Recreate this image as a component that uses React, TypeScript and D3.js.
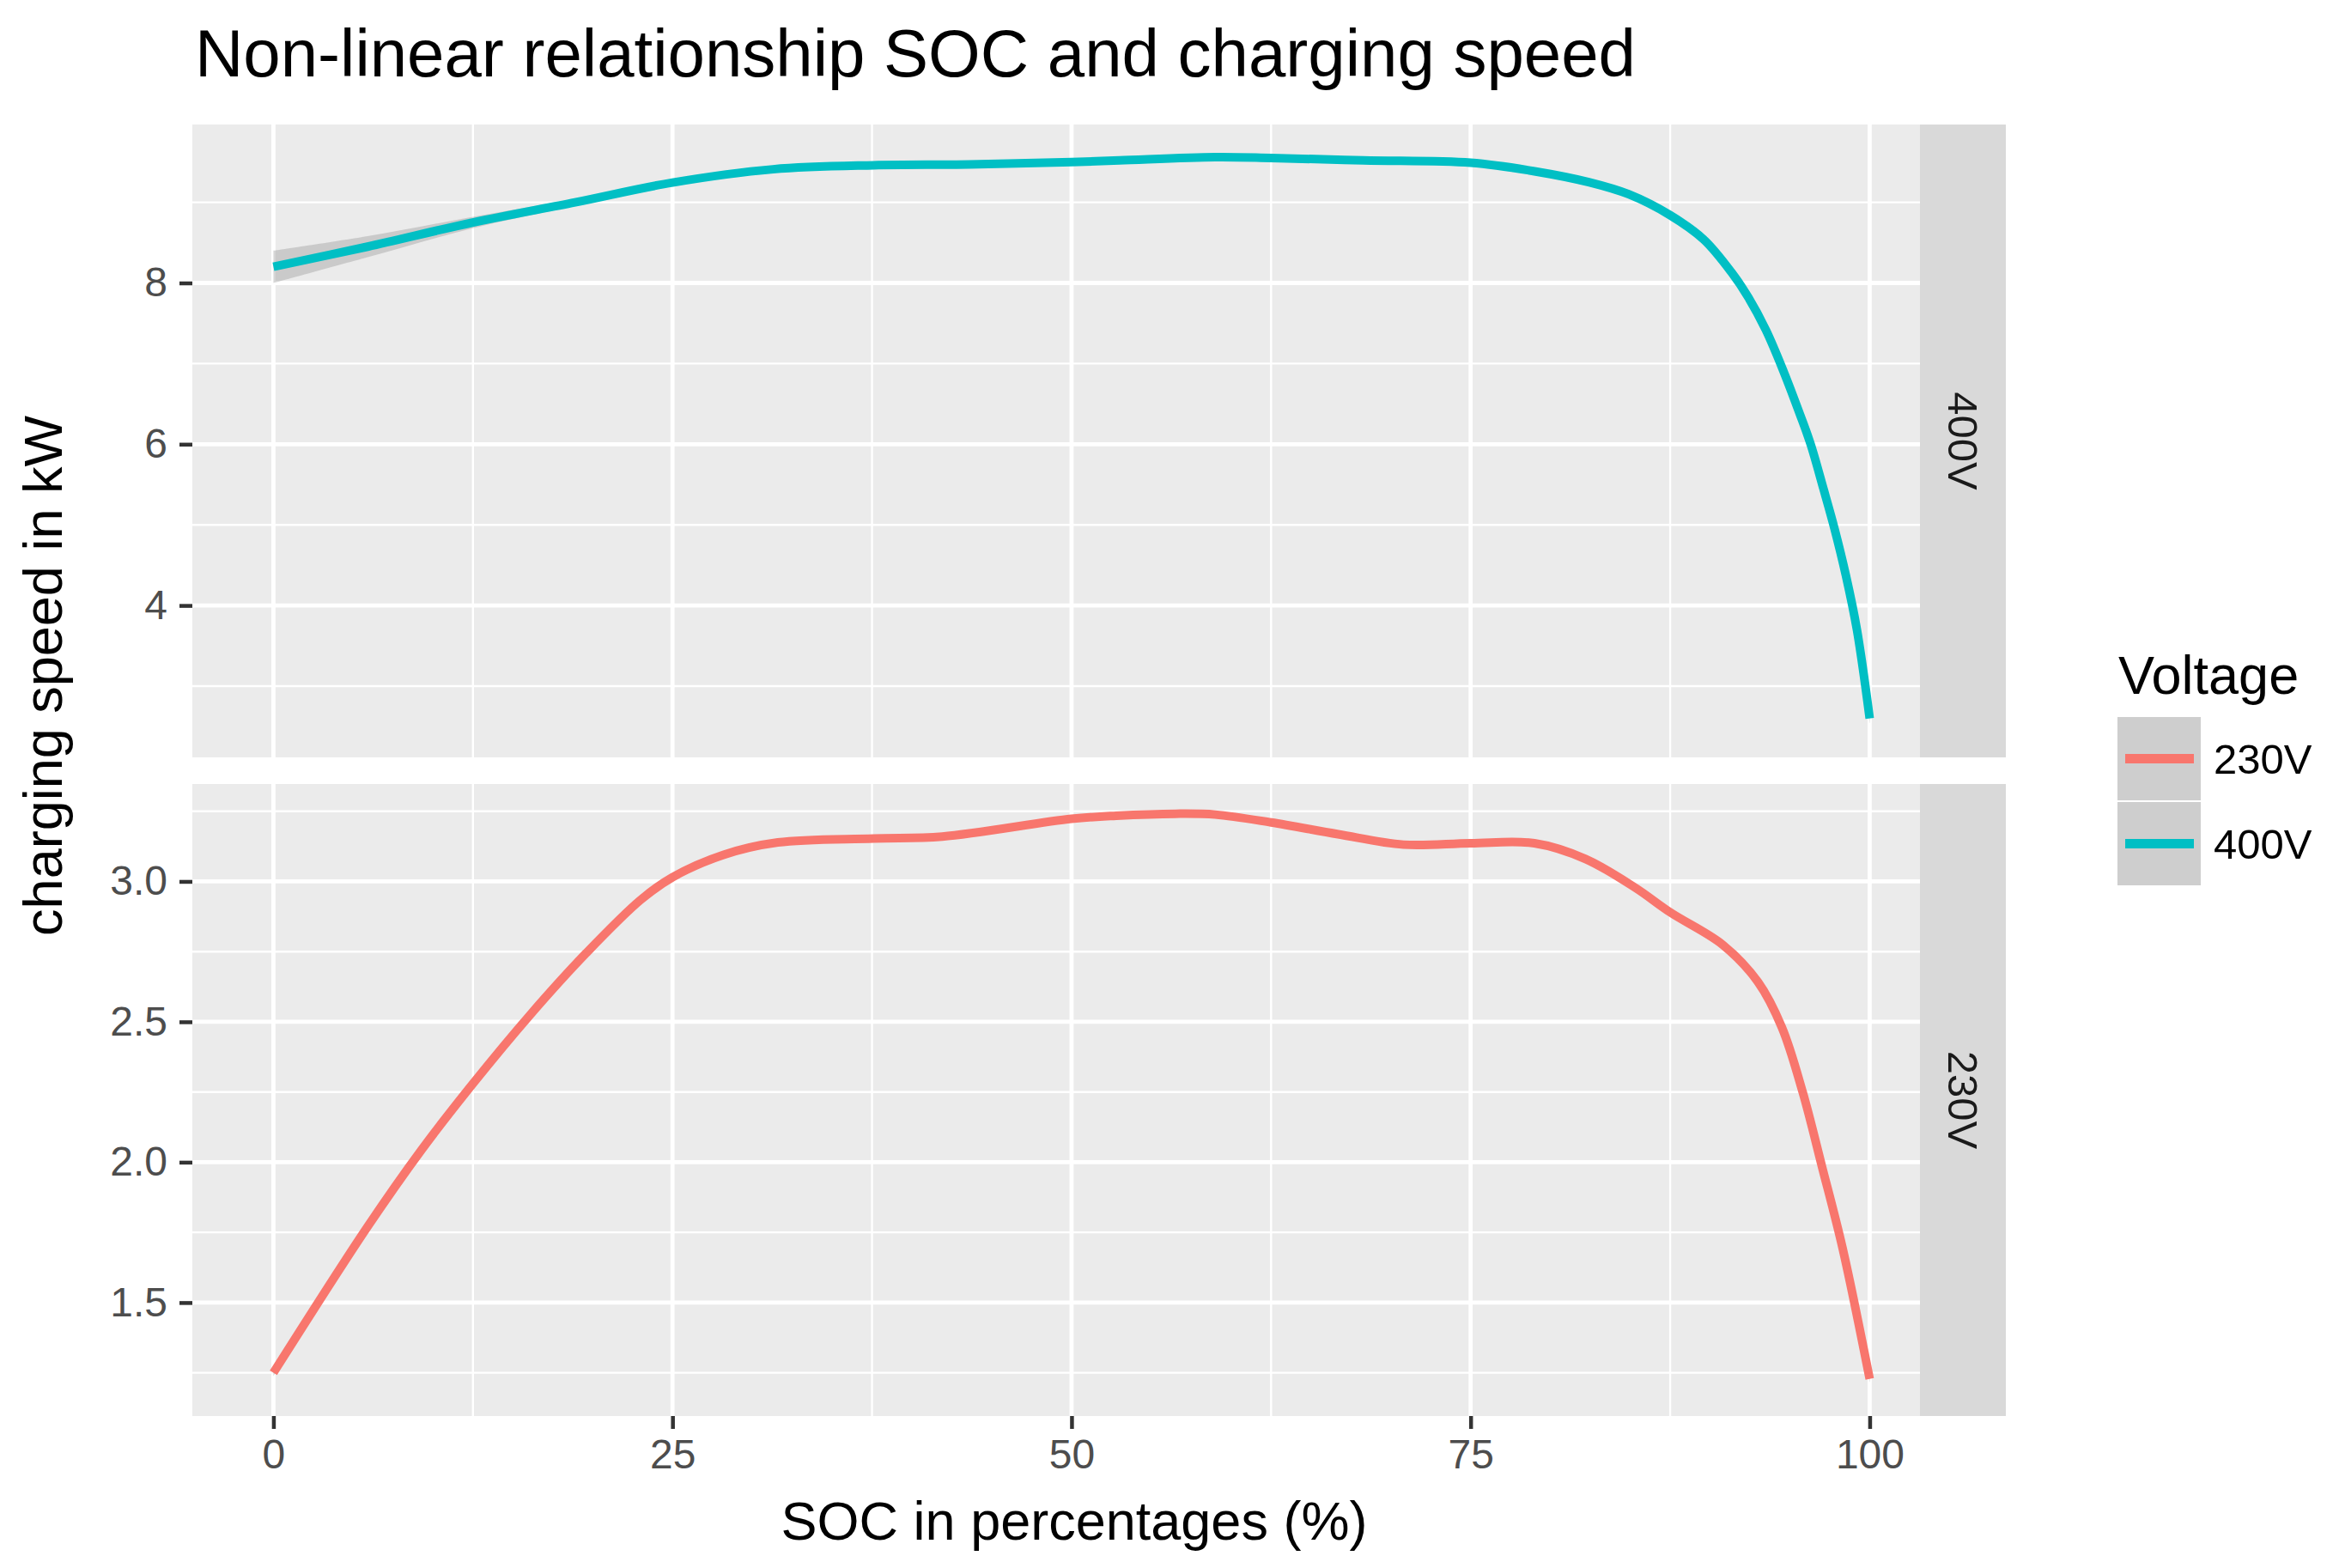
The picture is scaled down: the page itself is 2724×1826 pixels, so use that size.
import { useEffect, useRef } from 'react';
import * as d3 from 'd3';

// SOC tick labels and series colours (ggplot default hues)
const socTicks = [0, 25, 50, 75, 100];
const voltages = ['230V', '400V'];
const voltageColors = ['#F8766D', '#00BFC4'];

// 400V smoothed charging curve
const soc400 = [0, 5.9, 12.5, 18.9, 25, 31.3, 37.6, 43.6, 50, 53, 59, 62.5, 68.3, 75, 79, 82.4, 84.9, 87.5, 89.6, 91.35, 92.4, 93.5, 94.6, 95.65, 96.3, 97.1, 97.8, 98.5, 99.2, 100];
const kw400 = [8.2, 8.45, 8.75, 9.0, 9.245, 9.41, 9.46, 9.47, 9.5, 9.52, 9.56, 9.55, 9.52, 9.49, 9.385, 9.25, 9.1, 8.84, 8.54, 8.13, 7.82, 7.415, 6.905, 6.36, 6.0, 5.45, 4.95, 4.38, 3.7, 2.6];
const se400 = [0.2, 0.13, 0.07, 0.045, 0.035, 0.03, 0.03, 0.03, 0.03, 0.03, 0.03, 0.03, 0.03, 0.03, 0.03, 0.03, 0.03, 0.03, 0.03, 0.035, 0.035, 0.035, 0.04, 0.04, 0.04, 0.045, 0.045, 0.05, 0.055, 0.06];

// 230V smoothed charging curve
const soc230 = [0, 5.87, 9.29, 12.5, 16.1, 19.6, 23, 25, 28.2, 31.6, 37.6, 41.9, 50, 52.8, 56.5, 59, 62.5, 66.7, 70.8, 75, 79, 82.2, 85.3, 87.5, 90.8, 93, 94.5, 95.8, 97, 98.3, 100];
const kw230 = [1.25, 1.768, 2.045, 2.28, 2.526, 2.745, 2.934, 3.015, 3.095, 3.139, 3.153, 3.16, 3.223, 3.234, 3.241, 3.238, 3.21, 3.168, 3.131, 3.136, 3.136, 3.08, 2.978, 2.89, 2.774, 2.642, 2.48, 2.25, 1.987, 1.694, 1.228];
const se230 = kw230.map(() => 0.012);

const ticks400 = [4, 6, 8];
const ticks230 = [1.5, 2.0, 2.5, 3.0];

const midpoints = (t) => {
  const step = t[1] - t[0];
  const out = [t[0] - step / 2];
  t.forEach(v => out.push(v + step / 2));
  return out;
};

const App = () => {
  const chartRef = useRef(null);
  const width = 2724;
  const height = 1826;
  const panelLeft = 224;
  const panelRight = 2236;
  const stripWidth = 100;
  const font = '"Liberation Sans", Arial, Helvetica, sans-serif';

  useEffect(() => {
    const svg = d3.select(chartRef.current);
    svg.selectAll('*').remove();
    svg.attr('font-family', font);

    const x = d3.scaleLinear()
      .domain([-5.08, 103.15])
      .range([panelLeft, panelRight]);

    const facets = [
      { id: 'p400', label: '400V', color: voltageColors[1], soc: soc400, kw: kw400, se: se400,
        ticks: ticks400, fmt: d3.format('d'), top: 145, bottom: 882, domain: [2.116, 9.965] },
      { id: 'p230', label: '230V', color: voltageColors[0], soc: soc230, kw: kw230, se: se230,
        ticks: ticks230, fmt: d3.format('.1f'), top: 913, bottom: 1649, domain: [1.096, 3.347] },
    ];

    const xMinor = midpoints(socTicks).filter(v => v > x.domain()[0] && v < x.domain()[1]);

    facets.forEach(f => {
      const y = d3.scaleLinear().domain(f.domain).range([f.bottom, f.top]);
      const yMinor = midpoints(f.ticks).filter(v => v > f.domain[0] && v < f.domain[1]);
      const g = svg.append('g');

      g.append('rect')
        .attr('x', panelLeft).attr('y', f.top)
        .attr('width', panelRight - panelLeft).attr('height', f.bottom - f.top)
        .attr('fill', '#EBEBEB');

      // minor grid
      g.selectAll('line.hmin').data(yMinor).join('line')
        .attr('x1', panelLeft).attr('x2', panelRight)
        .attr('y1', d => y(d)).attr('y2', d => y(d))
        .attr('stroke', '#FFFFFF').attr('stroke-width', 2.4);
      g.selectAll('line.vmin').data(xMinor).join('line')
        .attr('x1', d => x(d)).attr('x2', d => x(d))
        .attr('y1', f.top).attr('y2', f.bottom)
        .attr('stroke', '#FFFFFF').attr('stroke-width', 2.4);

      // major grid
      g.selectAll('line.hmaj').data(f.ticks).join('line')
        .attr('x1', panelLeft).attr('x2', panelRight)
        .attr('y1', d => y(d)).attr('y2', d => y(d))
        .attr('stroke', '#FFFFFF').attr('stroke-width', 4.8);
      g.selectAll('line.vmaj').data(socTicks).join('line')
        .attr('x1', d => x(d)).attr('x2', d => x(d))
        .attr('y1', f.top).attr('y2', f.bottom)
        .attr('stroke', '#FFFFFF').attr('stroke-width', 4.8);

      svg.append('clipPath').attr('id', `clip-${f.id}`)
        .append('rect')
        .attr('x', panelLeft).attr('y', f.top)
        .attr('width', panelRight - panelLeft).attr('height', f.bottom - f.top);

      const pts = f.soc.map((s, i) => ({ s, v: f.kw[i], e: f.se[i] }));

      const ribbon = d3.area()
        .x(d => x(d.s))
        .y0(d => y(d.v - d.e))
        .y1(d => y(d.v + d.e))
        .curve(d3.curveCatmullRom.alpha(0.5));
      g.append('path')
        .attr('clip-path', `url(#clip-${f.id})`)
        .attr('d', ribbon(pts))
        .attr('fill', '#999999')
        .attr('fill-opacity', 0.4);

      const line = d3.line()
        .x(d => x(d.s))
        .y(d => y(d.v))
        .curve(d3.curveCatmullRom.alpha(0.5));
      g.append('path')
        .attr('clip-path', `url(#clip-${f.id})`)
        .attr('d', line(pts))
        .attr('fill', 'none')
        .attr('stroke', f.color)
        .attr('stroke-width', 10);

      // facet strip
      g.append('rect')
        .attr('x', panelRight).attr('y', f.top)
        .attr('width', stripWidth).attr('height', f.bottom - f.top)
        .attr('fill', '#D9D9D9');
      g.append('text')
        .attr('transform', `translate(${panelRight + stripWidth / 2},${(f.top + f.bottom) / 2}) rotate(90)`)
        .attr('text-anchor', 'middle')
        .attr('dy', '0.35em')
        .attr('font-size', 49)
        .attr('fill', '#1A1A1A')
        .text(f.label);

      // y axis
      svg.append('g')
        .attr('transform', `translate(${panelLeft},0)`)
        .attr('color', '#333333')
        .call(d3.axisLeft(y).tickValues(f.ticks).tickFormat(f.fmt).tickSize(15).tickPadding(14))
        .call(a => a.select('.domain').remove())
        .call(a => a.selectAll('line').attr('stroke-width', 4.5))
        .call(a => a.selectAll('text')
          .attr('fill', '#4D4D4D')
          .attr('font-size', 48)
          .attr('font-family', font));
    });

    // x axis under the lower panel
    svg.append('g')
      .attr('transform', `translate(0,${facets[1].bottom})`)
      .attr('color', '#333333')
      .call(d3.axisBottom(x).tickValues(socTicks).tickFormat(d3.format('d')).tickSize(15).tickPadding(12))
      .call(a => a.select('.domain').remove())
      .call(a => a.selectAll('line').attr('stroke-width', 4.5))
      .call(a => a.selectAll('text')
        .attr('fill', '#4D4D4D')
        .attr('font-size', 48)
        .attr('font-family', font));

    // titles
    svg.append('text')
      .attr('x', 227).attr('y', 89)
      .attr('font-size', 78)
      .attr('fill', '#000000')
      .text('Non-linear relationship SOC and charging speed');

    svg.append('text')
      .attr('x', 1251).attr('y', 1793)
      .attr('text-anchor', 'middle')
      .attr('font-size', 63)
      .attr('fill', '#000000')
      .text('SOC in percentages (%)');

    svg.append('text')
      .attr('transform', 'translate(72,787) rotate(-90)')
      .attr('text-anchor', 'middle')
      .attr('font-size', 63)
      .attr('fill', '#000000')
      .text('charging speed in kW');

    // legend
    const legendX = 2466;
    const keySize = 97;
    const legend = svg.append('g');
    legend.append('text')
      .attr('x', 2467).attr('y', 808)
      .attr('font-size', 63)
      .attr('fill', '#000000')
      .text('Voltage');

    const keys = legend.selectAll('g.key')
      .data(voltages)
      .join('g')
      .attr('class', 'key')
      .attr('transform', (d, i) => `translate(${legendX},${835 + i * (keySize + 2)})`);
    keys.append('rect')
      .attr('width', keySize).attr('height', keySize)
      .attr('fill', '#F2F2F2');
    keys.append('rect')
      .attr('width', keySize).attr('height', keySize)
      .attr('fill', '#999999').attr('fill-opacity', 0.4);
    keys.append('line')
      .attr('x1', 9).attr('x2', keySize - 8)
      .attr('y1', keySize / 2).attr('y2', keySize / 2)
      .attr('stroke', (d, i) => voltageColors[i])
      .attr('stroke-width', 11);
    keys.append('text')
      .attr('x', 2578 - legendX).attr('y', keySize / 2)
      .attr('dy', '0.36em')
      .attr('font-size', 49)
      .attr('fill', '#000000')
      .text(d => d);
  }, []);

  return (
    <svg
      ref={chartRef}
      width={width}
      height={height}
      viewBox={`0 0 ${width} ${height}`}
      style={{ position: 'absolute', left: 0, top: 0, background: '#FFFFFF' }}
    />
  );
};

export default App;
